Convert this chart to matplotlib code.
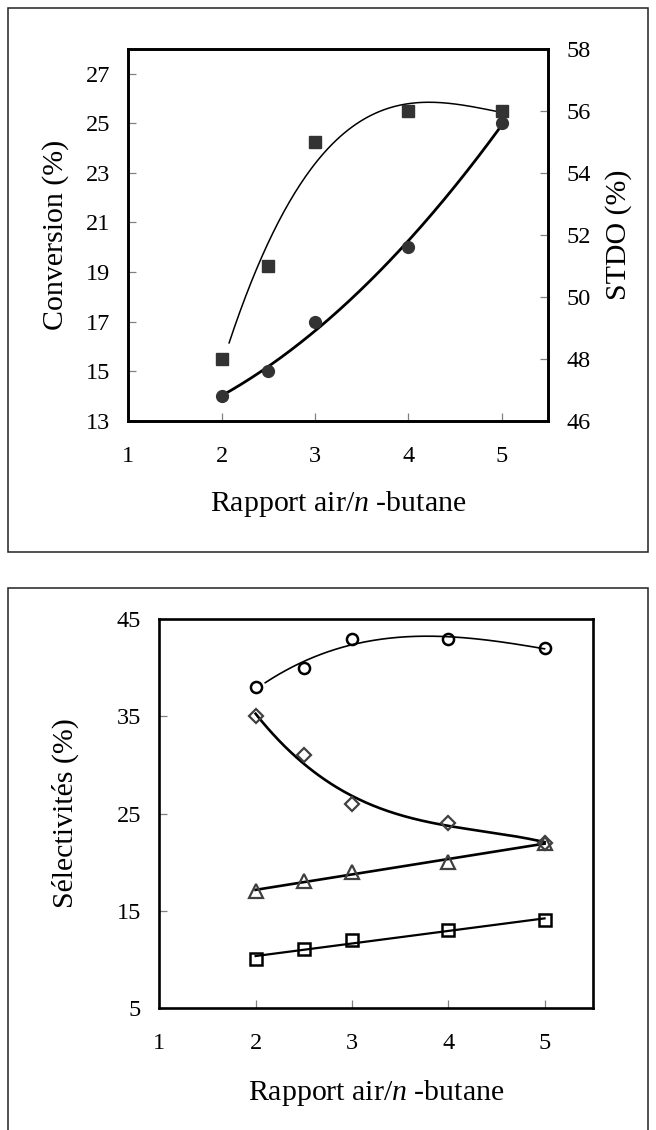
import numpy as np
import matplotlib
matplotlib.use("Agg")
import matplotlib.pyplot as plt
import matplotlib.transforms as mtransforms
from matplotlib.patches import Rectangle

# ---------------- data ----------------
ratio = [2, 2.5, 3, 4, 5]
conversion = [14, 15, 17, 20, 25]          # left axis, filled circles
stdo = [48, 51, 55, 56, 56]                # right axis, filled squares

sel_circle = [38, 40, 43, 43, 42]
sel_diamond = [35, 31, 26, 24, 22]
sel_triangle = [17, 18, 19, 20, 22]
sel_square = [10, 11, 12, 13, 14]

conv_ticks = [13, 15, 17, 19, 21, 23, 25, 27]
stdo_ticks = [46, 48, 50, 52, 54, 56, 58]
sel_ticks = [5, 15, 25, 35, 45]
x_ticks = [1, 2, 3, 4, 5]

xlabel = "Rapport air/$\\mathit{n}$ -butane"
ylabel_conv = "Conversion (%)"
ylabel_stdo = "STDO (%)"
ylabel_sel = "Sélectivités (%)"

# ---------------- style ----------------
plt.rcParams['font.family'] = ['Liberation Serif', 'DejaVu Serif']
plt.rcParams['mathtext.fontset'] = 'custom'
plt.rcParams['mathtext.rm'] = 'Liberation Serif'
plt.rcParams['mathtext.it'] = 'Liberation Serif:italic'

TICK_FS = 17.5
LABEL_FS = 21.5
DARK = '#333333'

W, H = 656, 1130
fig = plt.figure(figsize=(W / 100, H / 100), dpi=100)


def fx(px):
    return px / W


def fy(py):
    return 1 - py / H


def poly_trend(x, y, deg, x0, x1):
    c = np.polyfit(x, y, deg)
    xs = np.linspace(x0, x1, 200)
    return xs, np.polyval(c, xs)


def style_axis(ax):
    for s in ax.spines.values():
        s.set_linewidth(1.9)
        s.set_color('black')
    ax.tick_params(direction='in', length=6, width=0.9, color='#808080',
                   labelsize=TICK_FS)
    ax.tick_params(axis='x', pad=18)
    ax.tick_params(axis='y', pad=13)


def place_ylabel(ax, text, xpx):
    ax.set_ylabel(text, fontsize=LABEL_FS)
    lab = ax.yaxis.label
    lab.set_va('center')
    ax.yaxis.set_label_coords(fx(xpx), 0.5)
    lab.set_transform(mtransforms.blended_transform_factory(fig.transFigure, ax.transAxes))


def place_xlabel(ax, text, ypx):
    ax.set_xlabel(text, fontsize=LABEL_FS)
    lab = ax.xaxis.label
    lab.set_va('center')
    ax.xaxis.set_label_coords(0.5, fy(ypx))
    lab.set_transform(mtransforms.blended_transform_factory(ax.transAxes, fig.transFigure))


# frames
fig.patches.append(Rectangle((fx(8.4), fy(551.8)), fx(647.7) - fx(8.4),
                             fy(7.9) - fy(551.8), transform=fig.transFigure,
                             fill=False, lw=1.1, edgecolor='#222222'))
fig.patches.append(Rectangle((fx(8.4), -0.02), fx(647.7) - fx(8.4),
                             fy(588.5) + 0.02, transform=fig.transFigure,
                             fill=False, lw=1.1, edgecolor='#222222'))

# ---------------- panel 1 ----------------
ax1 = fig.add_axes([fx(128.3), fy(420.7), fx(548.3) - fx(128.3),
                    fy(49) - fy(420.7)])
style_axis(ax1)
ax1.set_xlim(1, 5.5)
ax1.set_ylim(13, 28)
ax1.set_xticks(x_ticks)
ax1.set_yticks(conv_ticks)

ax2 = ax1.twinx()
style_axis(ax2)
ax2.set_ylim(46, 58)
ax2.set_yticks(stdo_ticks)

xs, ys = poly_trend(ratio, conversion, 2, 2, 5)
ax1.plot(xs, ys, color='black', lw=2.0, zorder=3)
ax1.plot(ratio, conversion, 'o', ms=8.5, color=DARK, mec=DARK, zorder=4)

xs, ys = poly_trend(ratio, stdo, 3, 2.08, 5)
ax2.plot(xs, ys, color='black', lw=1.1, zorder=3)
ax2.plot(ratio, stdo, 's', ms=9, color=DARK, mec=DARK, zorder=4)

place_xlabel(ax1, xlabel, 503.6)
place_ylabel(ax1, ylabel_conv, 56)
place_ylabel(ax2, ylabel_stdo, 619)

# ---------------- panel 2 ----------------
ax3 = fig.add_axes([fx(159.3), fy(1007.7), fx(592.7) - fx(159.3),
                    fy(619.3) - fy(1007.7)])
style_axis(ax3)
ax3.set_xlim(1, 5.5)
ax3.set_ylim(5, 45)
ax3.set_xticks(x_ticks)
ax3.set_yticks(sel_ticks)

xs, ys = poly_trend(ratio, sel_circle, 3, 2.1, 5)
ax3.plot(xs, ys, color='black', lw=1.2, zorder=3)
ax3.plot(ratio, sel_circle, 'o', ms=8, mfc='none', mec='black', mew=1.8, zorder=4)

xs, ys = poly_trend(ratio, sel_diamond, 3, 2, 5)
ax3.plot(xs, ys, color='black', lw=1.9, zorder=3)
ax3.plot(ratio, sel_diamond, 'D', ms=7, mfc='none', mec='#404040', mew=1.6, zorder=4)

xs, ys = poly_trend(ratio, sel_triangle, 1, 2, 5)
ax3.plot(xs, ys, color='black', lw=1.9, zorder=3)
ax3.plot(ratio, sel_triangle, '^', ms=10, mfc='none', mec='#404040', mew=1.6, zorder=4)

xs, ys = poly_trend(ratio, sel_square, 1, 2, 5)
ax3.plot(xs, ys, color='black', lw=1.6, zorder=3)
ax3.plot(ratio, sel_square, 's', ms=8, mfc='none', mec='black', mew=1.8, zorder=4)

place_xlabel(ax3, xlabel, 1093)
place_ylabel(ax3, ylabel_sel, 65)

fig.savefig("out.png", dpi=100)
